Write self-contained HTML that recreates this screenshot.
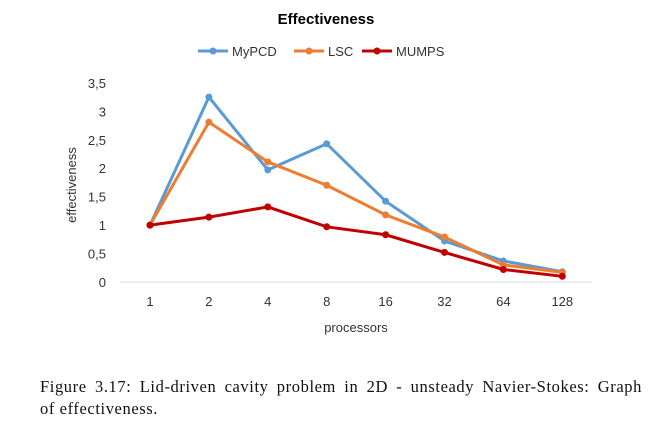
<!DOCTYPE html>
<html><head><meta charset="utf-8"><style>
body{margin:0;background:#fff;width:652px;height:422px;overflow:hidden}
svg{display:block}
.cap{position:absolute;left:40px;width:602px;font-family:"Liberation Serif",serif;font-size:16.5px;letter-spacing:0.6px;color:#111;white-space:nowrap}
.l1{top:377px;text-align:justify;text-align-last:justify}
.l2{top:399px}
</style></head><body>
<svg width="652" height="370" id="c" font-family="Liberation Sans, sans-serif"></svg>
<div class="cap l1">Figure 3.17: Lid-driven cavity problem in 2D - unsteady Navier-Stokes: Graph</div>
<div class="cap l2">of effectiveness.</div>
<script>
const categories=["1","2","4","8","16","32","64","128"];
const yTicks=[0,0.5,1,1.5,2,2.5,3,3.5];
const yTickLabels=["0","0,5","1","1,5","2","2,5","3","3,5"];
const mypcd=[1,3.25,1.97,2.43,1.42,0.72,0.37,0.18];
const lsc=[1,2.81,2.11,1.70,1.18,0.79,0.30,0.17];
const mumps=[1,1.14,1.32,0.97,0.83,0.52,0.22,0.10];
const seriesNames=["MyPCD","LSC","MUMPS"];
const colors=["#5b9bd5","#ed7d31","#c00000"];
const svg=document.getElementById('c');
const NS="http://www.w3.org/2000/svg";
function xs(i){return 150+i*58.9;}
function ys(v){return 282-v*56.9;}
function mk(t,a,p){const e=document.createElementNS(NS,t);for(const k in a)e.setAttribute(k,a[k]);(p||svg).appendChild(e);return e;}
let t=mk('text',{x:326,y:24,'text-anchor':'middle','font-size':15,'font-weight':'bold',fill:'#000'});t.textContent="Effectiveness";


let ax=mk('line',{x1:120,x2:592,y1:282,y2:282,stroke:'#d9d9d9'});


yTicks.forEach((v,i)=>{let e=mk('text',{x:106,y:ys(v)+5,'text-anchor':'end','font-size':13,fill:'#333'});e.textContent=yTickLabels[i];

});
categories.forEach((c,i)=>{let e=mk('text',{x:xs(i),y:306,'text-anchor':'middle','font-size':13,fill:'#333'});e.textContent=c;

});
let yt=mk('text',{x:0,y:0,transform:'translate(76,185) rotate(-90)','text-anchor':'middle','font-size':13,fill:'#333'});yt.textContent="effectiveness";


let xt=mk('text',{x:356,y:332,'text-anchor':'middle','font-size':13,fill:'#333'});xt.textContent="processors";


const legX=[198,294,362];
[mypcd,lsc,mumps].forEach((d,s)=>{
 let g=mk('g',{});
 
 
 mk('polyline',{points:d.map((v,i)=>xs(i)+','+ys(v)).join(' '),fill:'none',stroke:colors[s],'stroke-width':3},g);
 d.forEach((v,i)=>{let p=mk('circle',{cx:xs(i),cy:ys(v),r:3.5,fill:colors[s]},g);
 
 });
 let lg=mk('g',{});
 
 
 mk('line',{x1:legX[s],x2:legX[s]+30,y1:51,y2:51,stroke:colors[s],'stroke-width':3},lg);
 mk('circle',{cx:legX[s]+15,cy:51,r:3.5,fill:colors[s]},lg);
 let tt=mk('text',{x:legX[s]+34,y:56,'font-size':13,fill:'#333'},lg);tt.textContent=seriesNames[s];
});
</script>
</body></html>
